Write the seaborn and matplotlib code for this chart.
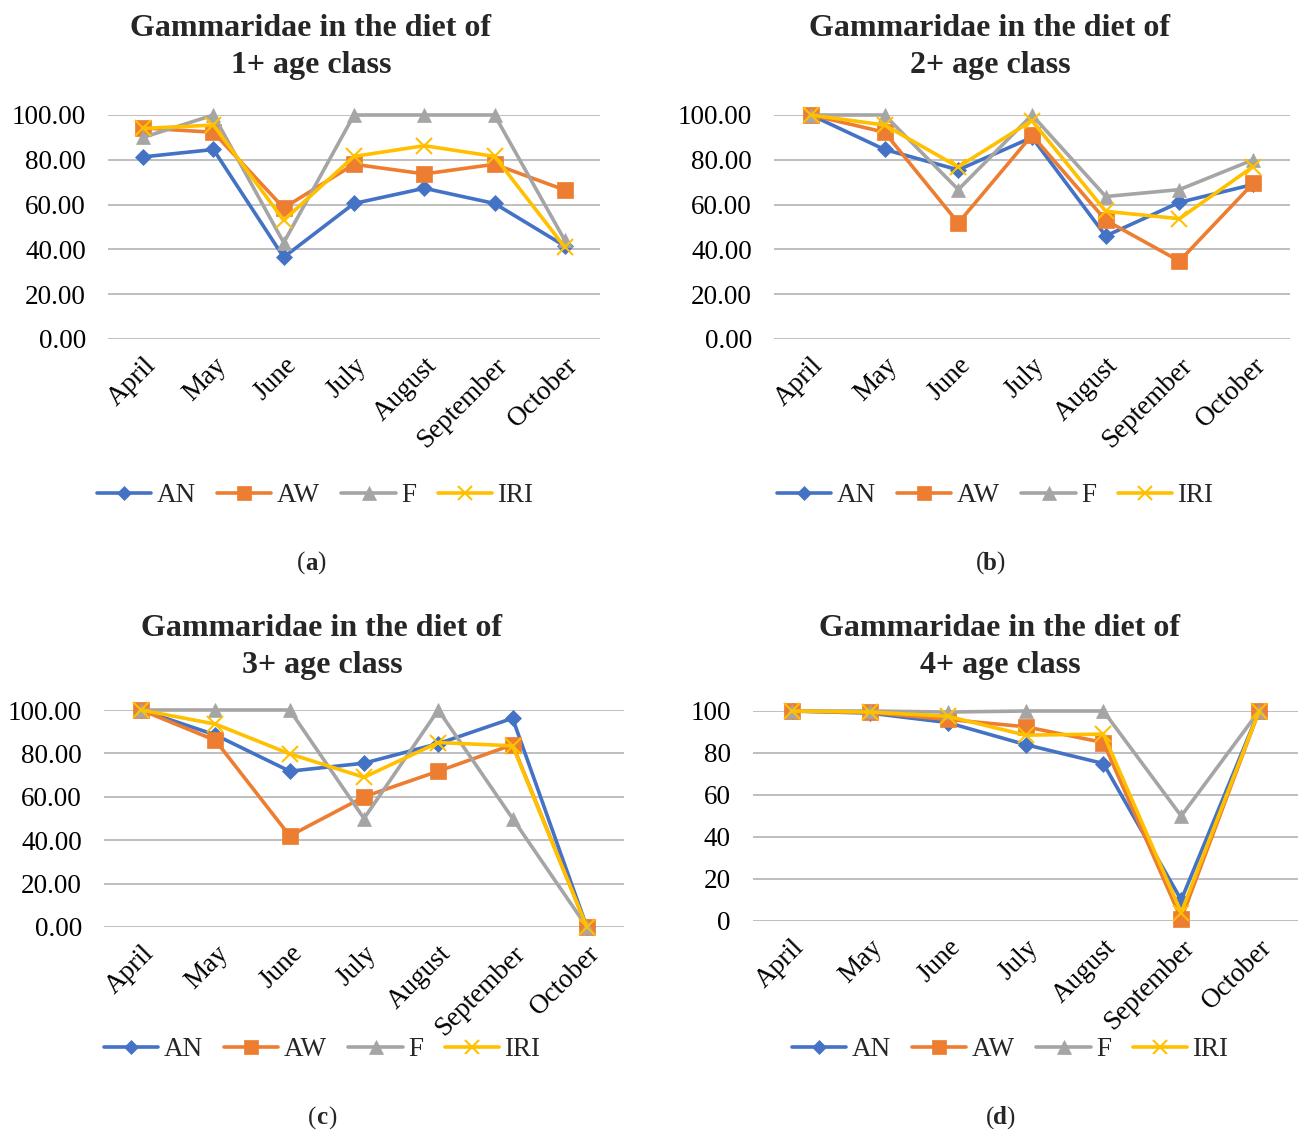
import matplotlib
matplotlib.use("Agg")
import matplotlib.pyplot as plt
import seaborn as sns
import pandas as pd
from matplotlib.lines import Line2D

sns.set_theme(style="white")
plt.rcParams['font.family'] = ['Liberation Serif', 'DejaVu Serif']

months = ["April", "May", "June", "July", "August", "September", "October"]
series_names = ["AN", "AW", "F", "IRI"]

# Panel (a) 1+ age class
a_AN = [81.3, 84.6, 36.5, 60.5, 67.3, 60.5, 41.5]
a_AW = [94.2, 92.3, 58.5, 78.0, 73.7, 78.0, 66.5]
a_F = [90.0, 100.0, 43.0, 100.0, 100.0, 100.0, 44.0]
a_IRI = [94.0, 95.5, 53.0, 81.5, 86.3, 81.5, 41.0]

# Panel (b) 2+ age class
b_AN = [100.0, 84.6, 75.5, 90.0, 46.0, 61.0, 69.0]
b_AW = [100.0, 92.3, 51.8, 91.0, 53.0, 34.8, 69.5]
b_F = [100.0, 100.0, 66.7, 100.0, 63.6, 66.7, 80.0]
b_IRI = [100.0, 95.5, 76.8, 97.5, 57.0, 53.7, 77.0]

# Panel (c) 3+ age class
c_AN = [100.0, 88.5, 71.8, 75.5, 84.5, 96.2, 0.0]
c_AW = [100.0, 86.0, 42.0, 60.0, 71.8, 84.0, 0.0]
c_F = [100.0, 100.0, 100.0, 50.0, 100.0, 50.0, 0.0]
c_IRI = [100.0, 93.5, 79.8, 69.0, 85.0, 83.5, 0.0]

# Panel (d) 4+ age class
d_AN = [100.0, 99.0, 94.5, 84.0, 75.0, 10.0, 100.0]
d_AW = [100.0, 99.3, 96.0, 92.5, 85.0, 1.0, 100.0]
d_F = [100.0, 100.0, 99.5, 100.0, 100.0, 50.0, 100.0]
d_IRI = [100.0, 99.5, 97.5, 88.5, 89.0, 4.0, 100.0]

titles = ["Gammaridae in the diet of\n1+ age class",
          "Gammaridae in the diet of\n2+ age class",
          "Gammaridae in the diet of\n3+ age class",
          "Gammaridae in the diet of\n4+ age class"]
panel_labels = ["a", "b", "c", "d"]

panels = [
    [a_AN, a_AW, a_F, a_IRI],
    [b_AN, b_AW, b_F, b_IRI],
    [c_AN, c_AW, c_F, c_IRI],
    [d_AN, d_AW, d_F, d_IRI],
]

colors = {"AN": "#4472C4", "AW": "#ED7D31", "F": "#A5A5A5", "IRI": "#FFC000"}
markers = {"AN": "D", "AW": "s", "F": "^", "IRI": "x"}
msizes = {"AN": 8, "AW": 11, "F": 10, "IRI": 11}

W, H = 1299, 1133
fig = plt.figure(figsize=(W / 100, H / 100), dpi=100)

# pixel layout: (left, right, top, bottom)
boxes = [(108, 600, 115, 339), (774, 1290, 115, 339),
         (104, 624, 710, 927), (753, 1298, 711, 921)]
title_pos = [(311, 28, 66), (990, 28, 66), (322, 628, 665), (1000, 628, 665)]
legend_pos = [(315, 496), (995, 496), (322, 1050), (1010, 1050)]
label_pos = [(311, 563), (990, 563), (322, 1118), (1000, 1118)]

for i, vals in enumerate(panels):
    l, r, t, b = boxes[i]
    ax = fig.add_axes([l / W, 1 - b / H, (r - l) / W, (b - t) / H])
    rows = []
    for name, v in zip(series_names, vals):
        for m, y in zip(months, v):
            rows.append({"month": m, "value": y, "series": name})
    df = pd.DataFrame(rows)
    for name in series_names:
        sub = df[df["series"] == name]
        sns.lineplot(data=sub, x="month", y="value", ax=ax, color=colors[name],
                     marker=markers[name], markersize=msizes[name],
                     markeredgecolor=colors[name], markeredgewidth=1.5 if name == "IRI" else 0.5,
                     linewidth=2.6, clip_on=False, legend=False, sort=False, zorder=3)
    ax.set_xlim(-0.5, 6.5)
    ax.set_ylim(0, 100)
    ax.set_yticks([0, 20, 40, 60, 80, 100])
    if i == 3:
        ax.set_yticklabels([f"{v:d}" for v in [0, 20, 40, 60, 80, 100]])
    else:
        ax.set_yticklabels([f"{v:.2f}" for v in [0, 20, 40, 60, 80, 100]])
    ax.yaxis.grid(True, color="#BFBFBF", linewidth=1.4)
    ax.xaxis.grid(False)
    for s in ax.spines.values():
        s.set_visible(False)
    ax.set_xlabel("")
    ax.set_ylabel("")
    ax.tick_params(axis="y", labelsize=19.5, pad=16, length=0, colors="black")
    ax.tick_params(axis="x", labelsize=19.5, pad=10, length=0, colors="black")
    ax.set_xticks(range(len(months)))
    ax.set_xticklabels(months, rotation=45, ha="right", va="top", rotation_mode="anchor")

    tx, ty1, ty2 = title_pos[i]
    line1, line2 = titles[i].split("\n")
    fig.text(tx / W, 1 - ty1 / H, line1, ha="center", va="center", fontsize=23, fontweight="bold")
    fig.text(tx / W, 1 - ty2 / H, line2, ha="center", va="center", fontsize=23, fontweight="bold")

    handles = [Line2D([0], [0], color=colors[n], marker=markers[n], markersize=msizes[n] * 0.95,
                      markeredgewidth=1.5 if n == "IRI" else 0.5, linewidth=2.6) for n in series_names]
    lx, ly = legend_pos[i]
    fig.legend(handles, series_names, loc="center", bbox_to_anchor=(lx / W, 1 - ly / H),
               ncol=4, frameon=False, fontsize=19.5, handlelength=2.0, handletextpad=0.2,
               columnspacing=0.8)

    px, py = label_pos[i]
    fig.text((px - 6) / W, 1 - py / H, "(", ha="right", va="center", fontsize=18)
    fig.text(px / W, 1 - py / H, panel_labels[i], ha="center", va="center", fontsize=18, fontweight="bold")
    fig.text((px + 6) / W, 1 - py / H, ")", ha="left", va="center", fontsize=18)

fig.savefig("out.png", dpi=100)
